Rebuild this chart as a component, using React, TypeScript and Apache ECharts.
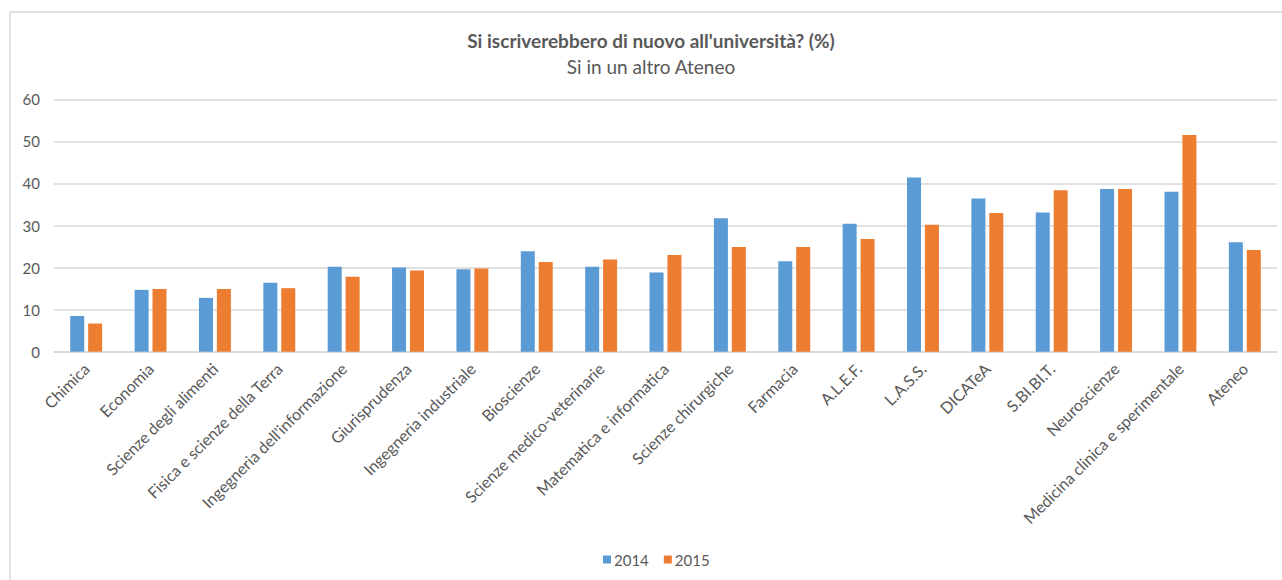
import React, { useEffect, useRef } from "react";
import * as echarts from "echarts";

const categories = [
  "Chimica",
  "Economia",
  "Scienze degli alimenti",
  "Fisica e scienze della Terra",
  "Ingegneria dell'informazione",
  "Giurisprudenza",
  "Ingegneria industriale",
  "Bioscienze",
  "Scienze medico-veterinarie",
  "Matematica e informatica",
  "Scienze chirurgiche",
  "Farmacia",
  "A.L.E.F.",
  "L.A.S.S.",
  "DICATeA",
  "S.BI.BI.T.",
  "Neuroscienze",
  "Medicina clinica e sperimentale",
  "Ateneo",
];

const values2014 = [8.5, 14.7, 12.8, 16.4, 20.2, 20.0, 19.6, 23.9, 20.2, 18.8, 31.7, 21.5, 30.4, 41.4, 36.4, 33.1, 38.7, 38.0, 26.0];
const values2015 = [6.7, 14.9, 14.9, 15.1, 17.8, 19.3, 19.8, 21.3, 21.9, 23.0, 24.9, 24.9, 26.8, 30.2, 33.0, 38.4, 38.7, 51.5, 24.2];

const seriesNames = ["2014", "2015"];
const titleText = "Si iscriverebbero di nuovo all'università? (%)";
const subtitleText = "Si in un altro Ateneo";

const FONT = "Lato, 'Open Sans', sans-serif";
const TEXT = "#595959";

export default function App() {
  const ref = useRef<HTMLDivElement>(null);
  useEffect(() => {
    if (!ref.current) return;
    const chart = echarts.init(ref.current, undefined, { renderer: "svg" });
    chart.setOption({
      animation: false,
      backgroundColor: "#ffffff",
      textStyle: { fontFamily: FONT, color: TEXT },
      graphic: [
        {
          type: "rect",
          shape: { x: 10, y: 12, width: 1400, height: 700 },
          style: { fill: "none", stroke: "#d9d9d9", lineWidth: 1.5 },
          silent: true,
          z: -1,
        },
        {
          type: "text",
          x: 651,
          y: 40,
          style: {
            text: titleText,
            fill: TEXT,
            font: "bold 19px " + FONT,
            align: "center",
            verticalAlign: "middle",
          },
        },
        {
          type: "text",
          x: 651,
          y: 66,
          style: {
            text: subtitleText,
            fill: TEXT,
            font: "19px " + FONT,
            align: "center",
            verticalAlign: "middle",
          },
        },
      ],
      legend: {
        data: seriesNames,
        top: 547,
        left: 598,
        itemWidth: 8,
        itemHeight: 8,
        itemGap: 15,
        icon: "rect",
        textStyle: { fontFamily: FONT, fontSize: 15, color: TEXT, padding: [0, 0, 0, -2] },
      },
      grid: { left: 54, right: 5, top: 99.3, bottom: 580 - 351.7, containLabel: false },
      xAxis: {
        type: "category",
        data: categories,
        axisTick: { show: false },
        axisLine: { show: true, lineStyle: { color: "#d9d9d9", width: 1.5 } },
        axisLabel: {
          interval: 0,
          rotate: 45,
          margin: 14,
          fontFamily: FONT,
          fontSize: 16,
          color: TEXT,
        },
      },
      yAxis: {
        type: "value",
        min: 0,
        max: 60,
        interval: 10,
        axisLine: { show: false },
        axisTick: { show: false },
        splitLine: { lineStyle: { color: "#d9d9d9", width: 1.5 } },
        axisLabel: { fontFamily: FONT, fontSize: 15, color: TEXT, margin: 14 },
      },
      series: [
        {
          name: seriesNames[0],
          type: "bar",
          data: values2014,
          barWidth: 14,
          barGap: "28%",
          itemStyle: { color: "#5B9BD5" },
        },
        {
          name: seriesNames[1],
          type: "bar",
          data: values2015,
          barWidth: 14,
          itemStyle: { color: "#ED7D31" },
        },
      ],
    });
    return () => chart.dispose();
  }, []);
  return (
    <div
      ref={ref}
      style={{ position: "fixed", left: 0, top: 0, width: 1282, height: 580 }}
    />
  );
}
